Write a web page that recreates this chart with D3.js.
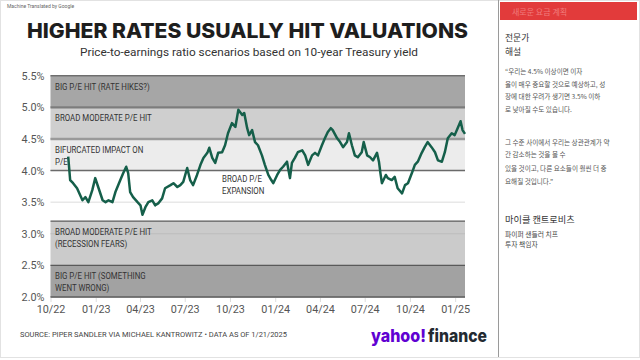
<!DOCTYPE html>
<html><head><meta charset="utf-8">
<script src="https://cdn.jsdelivr.net/npm/d3@7"></script>
<style>
html,body{margin:0;padding:0;background:#fff;}
svg{display:block;}
</style></head>
<body>
<svg id="c" width="640" height="360"></svg>
<script>
// ---------- DATA ----------
const dates = ["2022-11-06","2022-11-10","2022-11-16","2022-11-24","2022-12-05","2022-12-11","2022-12-17","2022-12-25","2022-12-31",
"2023-01-06","2023-01-15","2023-01-21","2023-01-27","2023-02-04","2023-02-10","2023-02-20","2023-02-26","2023-03-04","2023-03-08",
"2023-03-12","2023-03-18","2023-03-27","2023-04-02","2023-04-06","2023-04-12","2023-04-18","2023-04-26","2023-05-02","2023-05-08",
"2023-05-16","2023-05-22","2023-06-02","2023-06-08","2023-06-16","2023-06-22","2023-06-28","2023-07-06","2023-07-12","2023-07-18",
"2023-07-26","2023-08-02","2023-08-08","2023-08-16","2023-08-20","2023-08-26","2023-09-01","2023-09-07","2023-09-15","2023-09-21",
"2023-09-27","2023-10-05","2023-10-12","2023-10-18","2023-10-26","2023-10-30","2023-11-05","2023-11-09","2023-11-15","2023-11-21",
"2023-11-27","2023-12-05","2023-12-11","2023-12-18","2023-12-24","2023-12-28","2024-01-05","2024-01-11","2024-01-17","2024-01-25",
"2024-01-31","2024-02-04","2024-02-10","2024-02-16","2024-02-25","2024-03-02","2024-03-08","2024-03-16","2024-03-22","2024-03-28",
"2024-04-05","2024-04-11","2024-04-17","2024-04-23","2024-04-27","2024-05-06","2024-05-12","2024-05-18","2024-05-26","2024-05-30",
"2024-06-05","2024-06-11","2024-06-17","2024-06-25","2024-06-29","2024-07-06","2024-07-12","2024-07-18","2024-07-26","2024-07-30",
"2024-08-02","2024-08-05","2024-08-13","2024-08-17","2024-08-25","2024-08-31","2024-09-06","2024-09-15","2024-09-21","2024-09-27",
"2024-10-05","2024-10-11","2024-10-17","2024-10-25","2024-10-31","2024-11-06","2024-11-14","2024-11-21","2024-11-27","2024-12-05",
"2024-12-11","2024-12-17","2024-12-25","2024-12-31","2025-01-06","2025-01-12","2025-01-16","2025-01-21"];
const yields = [4.22,3.85,3.80,3.72,3.53,3.58,3.50,3.69,3.88,
3.74,3.53,3.50,3.53,3.50,3.66,3.85,3.96,4.06,3.96,
3.66,3.58,3.50,3.45,3.30,3.42,3.50,3.53,3.45,3.48,
3.56,3.72,3.77,3.80,3.74,3.77,3.82,4.04,3.85,3.77,
3.93,4.09,4.20,4.28,4.36,4.20,4.12,4.28,4.29,4.40,
4.59,4.75,4.69,4.96,4.88,4.91,4.67,4.56,4.64,4.45,
4.40,4.24,4.09,3.93,3.85,3.80,3.93,4.01,4.06,4.14,
3.88,4.12,4.20,4.29,4.32,4.24,4.09,4.24,4.28,4.24,
4.40,4.51,4.61,4.67,4.64,4.51,4.45,4.37,4.45,4.59,
4.40,4.24,4.21,4.29,4.45,4.24,4.21,4.16,4.28,4.14,
3.96,3.80,3.93,3.88,3.85,3.90,3.72,3.64,3.77,3.80,
3.96,4.09,4.14,4.28,4.37,4.45,4.37,4.29,4.16,4.14,
4.29,4.51,4.59,4.56,4.67,4.78,4.64,4.58];
const yTicks = [2.0,2.5,3.0,3.5,4.0,4.5,5.0,5.5];
const xTickDates = ["2022-10-01","2023-01-01","2023-04-01","2023-07-01","2023-10-01","2024-01-01","2024-04-01","2024-07-01","2024-10-01","2025-01-01"];
const xTickLabels = ["10/22","01/23","04/23","07/23","10/23","01/24","04/24","07/24","10/24","01/25"];
const bandLo = [5.0,4.5,4.0,2.5,2.0];
const bandHi = [5.5,5.0,4.5,3.2,2.5];
const bandLabels = [["BIG P/E HIT (RATE HIKES?)"],["BROAD MODERATE P/E HIT"],["BIFURCATED IMPACT ON","P/E"],["BROAD MODERATE P/E HIT","(RECESSION FEARS)"],["BIG P/E HIT (SOMETHING","WENT WRONG)"]];
const expansionLabel = ["BROAD P/E","EXPANSION"];
const title = "HIGHER RATES USUALLY HIT VALUATIONS";
const subtitle = "Price-to-earnings ratio scenarios based on 10-year Treasury yield";
const source = "SOURCE: PIPER SANDLER VIA MICHAEL KANTROWITZ • DATA AS OF 1/21/2025";
const logoParts = ["yahoo!","finance"];
const panelHeader = "새로운 요금 계획";
const panelTitle = ["전문가","해설"];
const quote1 = ["“우리는 4.5% 이상이면 이자","율이 매우 중요할 것으로 예상하고, 성","장에 대한 우려가 생기면 3.5% 이하","로 낮아질 수도 있습니다."];
const quote2 = ["그 수준 사이에서 우리는 상관관계가 약","간 감소하는 것을 볼 수","있을 것이고, 다른 요소들이 훨씬 더 중","요해질 것입니다.”"];
const author = "마이클 캔트로비츠";
const authorRole = ["파이퍼 샌들러 치프","투자 책임자"];

// ---------- DRAW ----------
const parse = d3.timeParse("%Y-%m-%d");
const data = dates.map((d,i)=>({date:parse(d), v:yields[i]}));
const svg = d3.select("#c");
const F = "Roboto, 'Noto Sans', sans-serif";
const KR = "'Noto Sans CJK KR', 'Noto Sans', sans-serif";

// frame
svg.append("rect").attr("x",0.5).attr("y",0.5).attr("width",639).attr("height",357).attr("fill","none").attr("stroke","#e2e2e2");
svg.append("line").attr("x1",498.5).attr("x2",498.5).attr("y1",0).attr("y2",357).attr("stroke","#9a9a9a").attr("stroke-width",1);

// header texts
svg.append("text").attr("x",7).attr("y",8).attr("font-family",F).attr("font-size",5).attr("fill","#666").text("Machine Translated by Google");
svg.append("text").attr("x",27).attr("y",38).attr("font-family","Inter, Roboto, sans-serif").attr("font-weight",800)
  .attr("font-size",20.5).attr("fill","#1e1e1e").attr("textLength",441).attr("lengthAdjust","spacingAndGlyphs").text(title);
svg.append("text").attr("x",80).attr("y",56).attr("font-family",F).attr("font-size",11).attr("fill","#333")
  .attr("textLength",338).attr("lengthAdjust","spacingAndGlyphs").text(subtitle);

// scales
const x = d3.scaleTime().domain([parse("2022-10-01"), parse("2025-01-21")]).range([50.5, 465]);
const y = d3.scaleLinear().domain([2.0, 5.5]).range([297, 75.7]);

const bandFills = ["#a6a6a6","#cfcfcf","#ececec","#cbcbcb","#a2a2a2"];
const g = svg.append("g");
g.selectAll("rect.band").data(bandLo).join("rect").attr("class","band")
  .attr("x",x.range()[0]).attr("width",x.range()[1]-x.range()[0])
  .attr("y",(d,i)=>y(bandHi[i])).attr("height",(d,i)=>y(d)-y(bandHi[i]))
  .attr("fill",(d,i)=>bandFills[i]);

g.selectAll("line.grid").data(yTicks).join("line").attr("class","grid")
  .attr("x1",x.range()[0]).attr("x2",x.range()[1]).attr("y1",d=>y(d)).attr("y2",d=>y(d))
  .attr("stroke",d=> d===3.5 ? "#dcdcdc" : "#bdbdbd").attr("stroke-width",1);

const edges = [[5.5,"#6e6e6e",1.5],[5.0,"#7c7c7c",2.2],[4.5,"#9a9a9a",2.5],[4.0,"#6a6a6a",1.5],[3.2,"#5a5a5a",1.2],[2.5,"#5a5a5a",1.2],[2.0,"#5a5a5a",1.5]];
g.selectAll("line.edge").data(edges).join("line").attr("class","edge")
  .attr("x1",x.range()[0]).attr("x2",x.range()[1]).attr("y1",d=>y(d[0])).attr("y2",d=>y(d[0]))
  .attr("stroke",d=>d[1]).attr("stroke-width",d=>d[2]);

function condLabel(sel, lines, x0, y0, lh){
  lines.forEach((t,j)=>{
    sel.append("text").attr("transform",`translate(${x0},${y0+j*lh}) scale(0.82,1)`)
      .attr("font-family",F).attr("font-size",9.6).attr("fill","#333").text(t);
  });
}
bandLabels.forEach((lines,i)=>{
  condLabel(g, lines, 55, y(bandHi[i])+14, 12);
});
condLabel(g, expansionLabel, 222, y(4.0)+11.5, 11.5);

const line = d3.line().x(d=>x(d.date)).y(d=>y(d.v)).curve(d3.curveLinear);
g.append("path").datum(data).attr("d",line).attr("fill","none").attr("stroke","#155f4a")
  .attr("stroke-width",2.5).attr("stroke-linejoin","round");

const yAxis = d3.axisLeft(y).tickValues(yTicks).tickFormat(d=>d3.format(".1f")(d)+"%").tickSize(0).tickPadding(6);
const ya = svg.append("g").attr("transform",`translate(${x.range()[0]},0)`).call(yAxis);
ya.select(".domain").remove();
ya.selectAll("text").attr("font-family",F).attr("font-size",10.8).attr("fill","#555");

const xAxis = d3.axisBottom(x).tickValues(xTickDates.map(parse)).tickFormat((d,i)=>xTickLabels[i]).tickSize(4).tickPadding(3);
const xa = svg.append("g").attr("transform",`translate(0,${y(2.0)+1})`).call(xAxis);
xa.select(".domain").remove();
xa.selectAll("line").attr("stroke","#dddddd");
xa.selectAll("text").attr("font-family",F).attr("font-size",10.8).attr("fill","#555");

// footer
svg.append("text").attr("x",20).attr("y",337).attr("font-family",F).attr("font-size",7.2).attr("fill","#444")
  .attr("textLength",267).attr("lengthAdjust","spacingAndGlyphs").text(source);
svg.append("text").attr("x",371).attr("y",342).attr("font-family","Inter, Roboto, sans-serif").attr("font-weight",800)
  .attr("font-size",18).attr("fill","#6001d2").attr("textLength",55).attr("lengthAdjust","spacingAndGlyphs").text(logoParts[0]);
svg.append("text").attr("x",428).attr("y",342).attr("font-family","Inter, Roboto, sans-serif").attr("font-weight",800)
  .attr("font-size",18).attr("fill","#232a31").attr("textLength",59).attr("lengthAdjust","spacingAndGlyphs").text(logoParts[1]);

// right panel
svg.append("rect").attr("x",500).attr("y",2).attr("width",137).attr("height",18).attr("fill","#e23b3b");
svg.append("text").attr("x",512).attr("y",15).attr("font-family",KR).attr("font-size",8).attr("fill","#f07c7c").text(panelHeader);
panelTitle.forEach((t,i)=>svg.append("text").attr("x",505).attr("y",41+i*13.5).attr("font-family",KR).attr("font-size",8.8).attr("fill","#333").text(t));
const qy1 = [74,87,99,112], qy2 = [145,157,171,184];
quote1.forEach((t,i)=>svg.append("text").attr("x",505).attr("y",qy1[i]).attr("font-family",KR).attr("font-size",6.6).attr("fill","#555").text(t));
quote2.forEach((t,i)=>svg.append("text").attr("x",505).attr("y",qy2[i]).attr("font-family",KR).attr("font-size",6.6).attr("fill","#555").text(t));
svg.append("text").attr("x",505).attr("y",223).attr("font-family",KR).attr("font-size",9.2).attr("fill","#333").text(author);
authorRole.forEach((t,i)=>svg.append("text").attr("x",505).attr("y",236.5+i*10).attr("font-family",KR).attr("font-size",6.8).attr("fill","#444").text(t));
</script>
</body></html>
